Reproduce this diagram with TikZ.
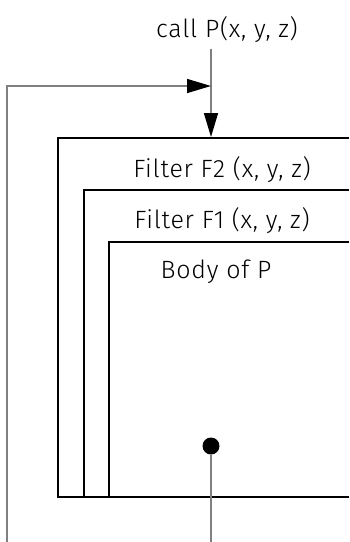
\documentclass[tikz,border=0pt]{standalone}
\usepackage{fontspec}
\setmainfont{Fira Sans Light}[LetterSpace=3]
\usetikzlibrary{arrows.meta}
\begin{document}
\begin{tikzpicture}[x=1pt,y=-1pt,
  lbl/.style={anchor=base,inner sep=0pt,font=\fontsize{25}{29}\selectfont},
  boxline/.style={line width=2.6pt,black},
  conn/.style={line width=1.5pt,draw=black!50},
  tip/.style={-{Triangle[length=24pt,width=14pt,fill=black,color=black]}}]
\useasboundingbox (0,0) rectangle (349,542);
% boxes (open on the right)
\draw[boxline] (349,138) -- (58,138) -- (58,497) -- (349,497);
\draw[boxline] (349,190) -- (84,190) -- (84,497);
\draw[boxline] (349,242) -- (109,242) -- (109,497);
% labels
\node[lbl] (call) at (227,37) {call P(x, y, z)};
\node[lbl] (f2) at (222,177) {Filter F2 (x, y, z)};
\node[lbl] (f1) at (222,228) {Filter F1 (x, y, z)};
\node[lbl] (body) at (216,278) {Body of P};
% coordinates
\coordinate (top) at (211,137);
\coordinate (join) at (211,86);
\coordinate (lb) at (7,542);
\coordinate (lt) at (7,86);
\coordinate (db) at (211,542);
\node[circle,fill=black,inner sep=0pt,minimum size=17pt] (dot) at (211,446) {};
% connectors
\draw[conn,tip] (211,49) -- (top);
\draw[conn,tip] (lb) -- (lt) -- (join);
\draw[conn] (dot) -- (db);
\end{tikzpicture}
\end{document}
